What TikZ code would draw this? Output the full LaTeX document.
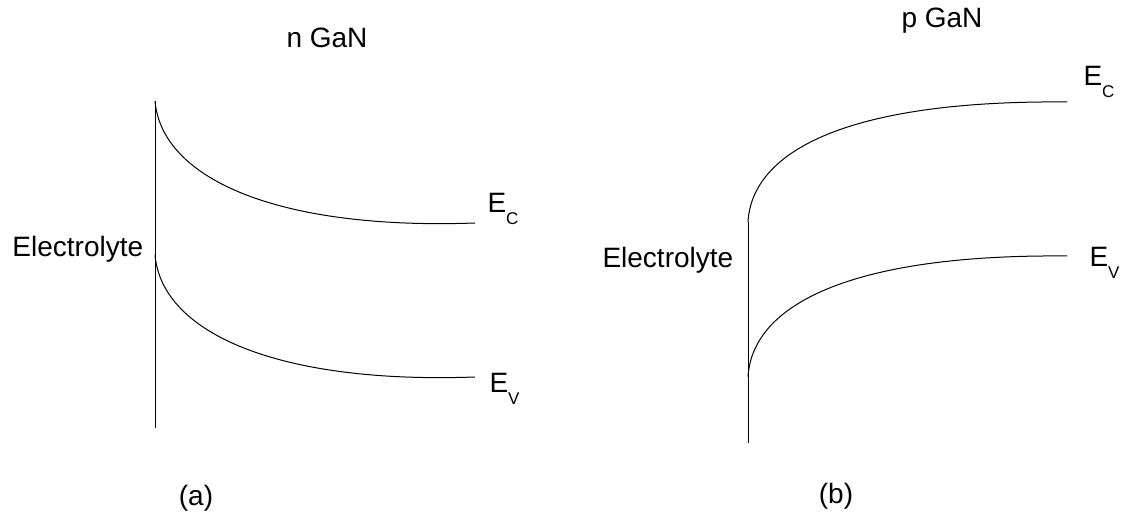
\documentclass[tikz,border=0pt]{standalone}
\usepackage{fontspec}
\setmainfont{Liberation Sans}
\newcommand{\bandlbl}[1]{E\raisebox{-12pt}{\fontsize{17}{20}\selectfont #1}}

\begin{document}
\begin{tikzpicture}[x=1pt,y=-1pt,line width=1pt,
		lbl/.style={font=\fontsize{28}{34}\selectfont,inner sep=0pt}]
		\useasboundingbox (0,0) rectangle (1129,518);
		
		% (a) n GaN: interface and bands bending down
		\coordinate (nTop) at (155,101);
		\coordinate (nBot) at (155,428);
		\coordinate (nVs) at (155,255);
		\coordinate (nCe) at (475,223);
		\coordinate (nVe) at (475,377);
		\draw (nTop) -- (nBot);
		\draw (nTop) .. controls +(7,79) and +(-195,7) .. (nCe);
		\draw (nVs) .. controls +(7,79) and +(-195,7) .. (nVe);
		
		% (b) p GaN: interface and bands bending up
		\coordinate (pCs) at (748,222);
		\coordinate (pBot) at (748,443);
		\coordinate (pVs) at (748,377);
		\coordinate (pCe) at (1067,102);
		\coordinate (pVe) at (1067,256);
		\draw (pCs) -- (pBot);
		\draw (pCs) .. controls +(4,-72) and +(-217,-2) .. (pCe);
		\draw (pVs) .. controls +(4,-72) and +(-217,-2) .. (pVe);
		
		% Labels
		\node[lbl,anchor=base] (nTitle) at (327,48) {n GaN};
		\node[lbl,anchor=base] (pTitle) at (942,28) {p GaN};
		\node[lbl,anchor=base west] (nElec) at (12,257) {Electrolyte};
		\node[lbl,anchor=base west] (pElec) at (602,268) {Electrolyte};
		\node[lbl,anchor=base west] (nEC) at (487,213) {\bandlbl{C}};
		\node[lbl,anchor=base west] (nEV) at (489,392) {\bandlbl{V}};
		\node[lbl,anchor=base west] (pEC) at (1083,86) {\bandlbl{C}};
		\node[lbl,anchor=base west] (pEV) at (1089,267) {\bandlbl{V}};
		\node[lbl,anchor=base] (capA) at (196,505) {(a)};
		\node[lbl,anchor=base] (capB) at (836,503) {(b)};
	\end{tikzpicture}
\end{document}
